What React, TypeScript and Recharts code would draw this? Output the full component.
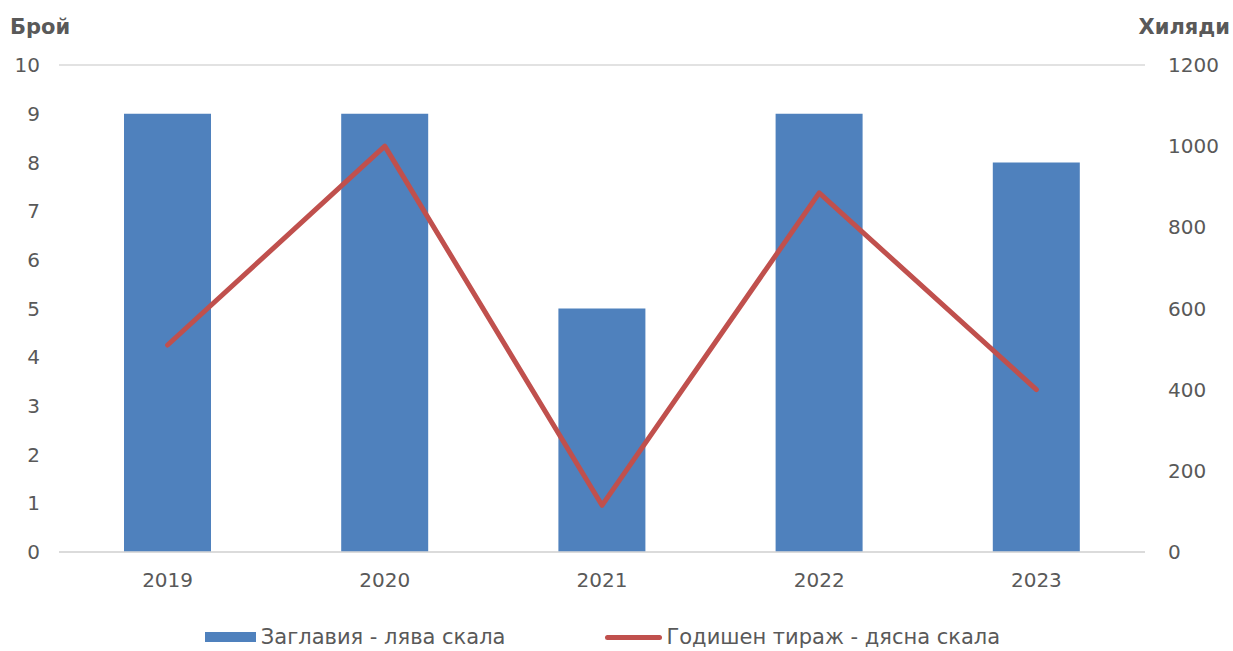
import React from "react";
import {
  Bar,
  CartesianGrid,
  ComposedChart,
  Legend,
  Line,
  XAxis,
  YAxis,
} from "recharts";

const years = ["2019", "2020", "2021", "2022", "2023"];
const titles = [9, 9, 5, 9, 8];
const circulation = [510, 1000, 115, 885, 400];

const leftTicks = [0, 1, 2, 3, 4, 5, 6, 7, 8, 9, 10];
const rightTicks = [0, 200, 400, 600, 800, 1000, 1200];

const data = years.map((year, i) => ({
  year,
  titles: titles[i],
  circulation: circulation[i],
}));

const TEXT = "#595959";
const BLUE = "#4f81bd";
const RED = "#c0504d";
const FONT = "'DejaVu Sans', Verdana, sans-serif";

// legend: bar entry first, as in the original
function LegendContent({ payload }: any) {
  const items = [...(payload || [])].sort((a: any, b: any) =>
    a.type === "line" ? 1 : b.type === "line" ? -1 : 0
  );
  return (
    <div
      style={{
        display: "flex",
        justifyContent: "center",
        alignItems: "center",
        height: 24,
        paddingRight: 28,
        fontFamily: FONT,
        fontSize: 21,
        color: TEXT,
        gap: 100,
      }}
    >
      {items.map((p: any) => (
        <div key={p.value} style={{ display: "flex", alignItems: "center" }}>
          {p.type === "line" ? (
            <span
              style={{
                width: 57,
                height: 5,
                borderRadius: 3,
                background: RED,
                marginRight: 4,
              }}
            />
          ) : (
            <span
              style={{ width: 51, height: 10, background: BLUE, marginRight: 5 }}
            />
          )}
          <span>{p.value}</span>
        </div>
      ))}
    </div>
  );
}

export default function App() {
  return (
    <div style={{ position: "relative", width: 1233, height: 651, background: "#fff" }}>
      <style>{"body{margin:0}"}</style>
      <div
        style={{
          position: "absolute",
          left: 10,
          top: 15,
          fontFamily: FONT,
          fontWeight: "bold",
          fontSize: 21,
          color: TEXT,
        }}
      >
        Брой
      </div>
      <div
        style={{
          position: "absolute",
          right: 3,
          top: 15,
          fontFamily: FONT,
          fontWeight: "bold",
          fontSize: 21,
          color: TEXT,
        }}
      >
        Хиляди
      </div>
      <ComposedChart
        width={1233}
        height={651}
        data={data}
        margin={{ top: 65, right: 0, bottom: 45, left: 0 }}
        style={{ fontFamily: FONT }}
      >
        <CartesianGrid vertical={false} stroke="#d9d9d9" strokeWidth={1.5} />
        <XAxis
          dataKey="year"
          height={30}
          axisLine={{ stroke: "#d9d9d9", strokeWidth: 1.5 }}
          tickLine={false}
          tickMargin={15}
          tick={{ fill: TEXT, fontSize: 20 }}
        />
        <YAxis
          yAxisId="left"
          width={59}
          domain={[0, 10]}
          ticks={leftTicks}
          interval={0}
          axisLine={false}
          tickLine={false}
          tickMargin={13}
          tick={{ fill: TEXT, fontSize: 20 }}
        />
        <YAxis
          yAxisId="right"
          orientation="right"
          width={88}
          domain={[0, 1200]}
          ticks={rightTicks}
          interval={0}
          axisLine={false}
          tickLine={false}
          tickMargin={17}
          tick={{ fill: TEXT, fontSize: 20, textAnchor: "start" }}
        />
        <Bar
          yAxisId="left"
          dataKey="titles"
          name="Заглавия - лява скала"
          fill={BLUE}
          barSize={87}
          legendType="rect"
          isAnimationActive={false}
        />
        <Line
          yAxisId="right"
          dataKey="circulation"
          name="Годишен тираж - дясна скала"
          type="linear"
          stroke={RED}
          strokeWidth={5}
          strokeLinecap="round"
          strokeLinejoin="round"
          dot={false}
          activeDot={false}
          legendType="line"
          isAnimationActive={false}
        />
        <Legend
          verticalAlign="bottom"
          content={<LegendContent />}
          wrapperStyle={{ bottom: 2 }}
        />
      </ComposedChart>
    </div>
  );
}
